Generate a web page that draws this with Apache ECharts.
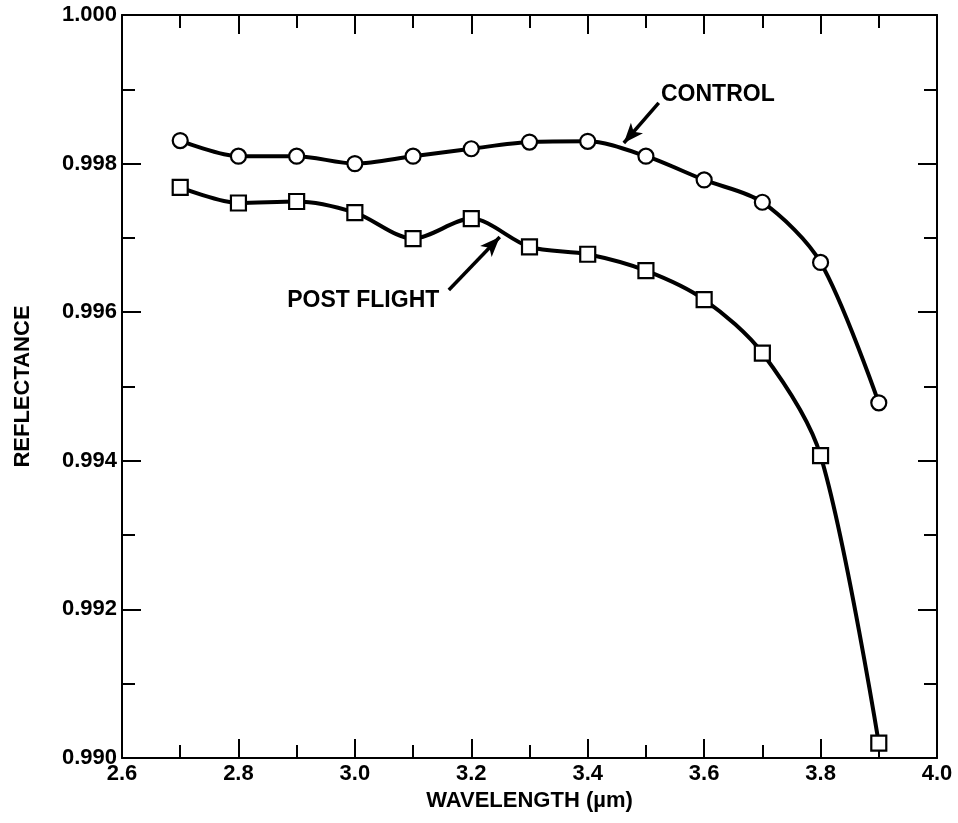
<!DOCTYPE html>
<html>
<head>
<meta charset="utf-8">
<script src="https://cdn.jsdelivr.net/npm/echarts@6/dist/echarts.min.js"></script>
<style>html,body{margin:0;padding:0;background:#fff;}#c{width:958px;height:823px;}</style>
</head>
<body>
<div id="c"></div>
<script>
const wavelengths = [2.7, 2.8, 2.9, 3.0, 3.1, 3.2, 3.3, 3.4, 3.5, 3.6, 3.7, 3.8, 3.9];
const controlValues = [0.99831, 0.99810, 0.99810, 0.99800, 0.99810, 0.99820, 0.99829, 0.99830, 0.99810, 0.99778, 0.99748, 0.99667, 0.99478];
const postFlightValues = [0.99768, 0.99747, 0.99749, 0.99734, 0.99699, 0.99726, 0.99688, 0.99678, 0.99656, 0.99617, 0.99545, 0.99407, 0.99020];
const xTicks = ['2.6', '2.8', '3.0', '3.2', '3.4', '3.6', '3.8', '4.0'];
const yTicks = ['0.990', '0.992', '0.994', '0.996', '0.998', '1.000'];

const FONT = '"Liberation Sans", Arial, Helvetica, sans-serif';
const chart = echarts.init(document.getElementById('c'));

function pairs(xs, ys) { return xs.map((x, i) => [x, ys[i]]); }

const tickStyle = { color: '#000', width: 2 };
const xBase = {
  type: 'value', min: 2.6, max: 4.0, interval: 0.2,
  axisLine: { show: true, onZero: false, lineStyle: { color: '#000', width: 2 } },
  axisTick: { show: true, inside: true, length: 19, lineStyle: tickStyle },
  minorTick: { show: true, splitNumber: 2, length: 13, lineStyle: tickStyle },
  splitLine: { show: false }
};
const yBase = {
  type: 'value', min: 0.990, max: 1.000, interval: 0.002,
  axisLine: { show: true, onZero: false, lineStyle: { color: '#000', width: 2 } },
  axisTick: { show: true, inside: true, length: 19, lineStyle: tickStyle },
  minorTick: { show: true, splitNumber: 2, length: 13, lineStyle: tickStyle },
  splitLine: { show: false }
};

const option = {
  backgroundColor: '#fff',
  animation: false,
  grid: { left: 122, right: 21, top: 15, bottom: 65 },
  xAxis: [
    Object.assign({}, xBase, {
      position: 'bottom',
      name: 'WAVELENGTH (µm)', nameLocation: 'middle', nameGap: 30,
      nameTextStyle: { color: '#000', fontFamily: FONT, fontWeight: 'bold', fontSize: 22 },
      axisLabel: {
        color: '#000', fontFamily: FONT, fontWeight: 'bold', fontSize: 22, margin: 5,
        formatter: v => { const s = v.toFixed(1); return xTicks.includes(s) ? s : ''; }
      }
    }),
    Object.assign({}, xBase, { position: 'top', axisLabel: { show: false } })
  ],
  yAxis: [
    Object.assign({}, yBase, {
      position: 'left',
      name: 'REFLECTANCE', nameLocation: 'middle', nameGap: 88,
      nameTextStyle: { color: '#000', fontFamily: FONT, fontWeight: 'bold', fontSize: 22 },
      axisLabel: {
        color: '#000', fontFamily: FONT, fontWeight: 'bold', fontSize: 22, margin: 5,
        formatter: v => { const s = v.toFixed(3); return yTicks.includes(s) ? s : ''; }
      }
    }),
    Object.assign({}, yBase, { position: 'right', axisLabel: { show: false } })
  ],
  series: [
    {
      name: 'CONTROL', type: 'line', xAxisIndex: 0, yAxisIndex: 0,
      data: pairs(wavelengths, controlValues),
      smooth: 0.3,
      symbol: 'circle', symbolSize: 15,
      lineStyle: { color: '#000', width: 4 },
      itemStyle: { color: '#fff', borderColor: '#000', borderWidth: 2.2 },
      z: 3,
      markLine: {
        silent: true, symbol: ['none', 'arrow'], symbolSize: [12, 20],
        lineStyle: { color: '#000', width: 3.5, type: 'solid' },
        label: { show: false },
        data: [[{ coord: [3.522, 0.998816] }, { coord: [3.462, 0.998277] }]]
      },
      markPoint: {
        silent: true, symbol: 'rect', symbolSize: 1,
        itemStyle: { color: 'rgba(0,0,0,0)' },
        label: { show: true, position: 'right', distance: 0, color: '#000', fontFamily: FONT, fontWeight: 'bold', fontSize: 23, formatter: 'CONTROL' },
        data: [{ coord: [3.525, 0.998923] }]
      }
    },
    {
      name: 'POST FLIGHT', type: 'line', xAxisIndex: 0, yAxisIndex: 0,
      data: pairs(wavelengths, postFlightValues),
      smooth: 0.3,
      symbol: 'rect', symbolSize: 15,
      lineStyle: { color: '#000', width: 4 },
      itemStyle: { color: '#fff', borderColor: '#000', borderWidth: 2.2 },
      z: 3,
      markLine: {
        silent: true, symbol: ['none', 'arrow'], symbolSize: [12, 20],
        lineStyle: { color: '#000', width: 3.5, type: 'solid' },
        label: { show: false },
        data: [[{ coord: [3.1614, 0.996299] }, { coord: [3.2489, 0.997012] }]]
      },
      markPoint: {
        silent: true, symbol: 'rect', symbolSize: 1,
        itemStyle: { color: 'rgba(0,0,0,0)' },
        label: { show: true, position: 'left', distance: 0, color: '#000', fontFamily: FONT, fontWeight: 'bold', fontSize: 23, formatter: 'POST FLIGHT' },
        data: [{ coord: [3.1459, 0.996151] }]
      }
    }
  ]
};
chart.setOption(option);
</script>
</body>
</html>
